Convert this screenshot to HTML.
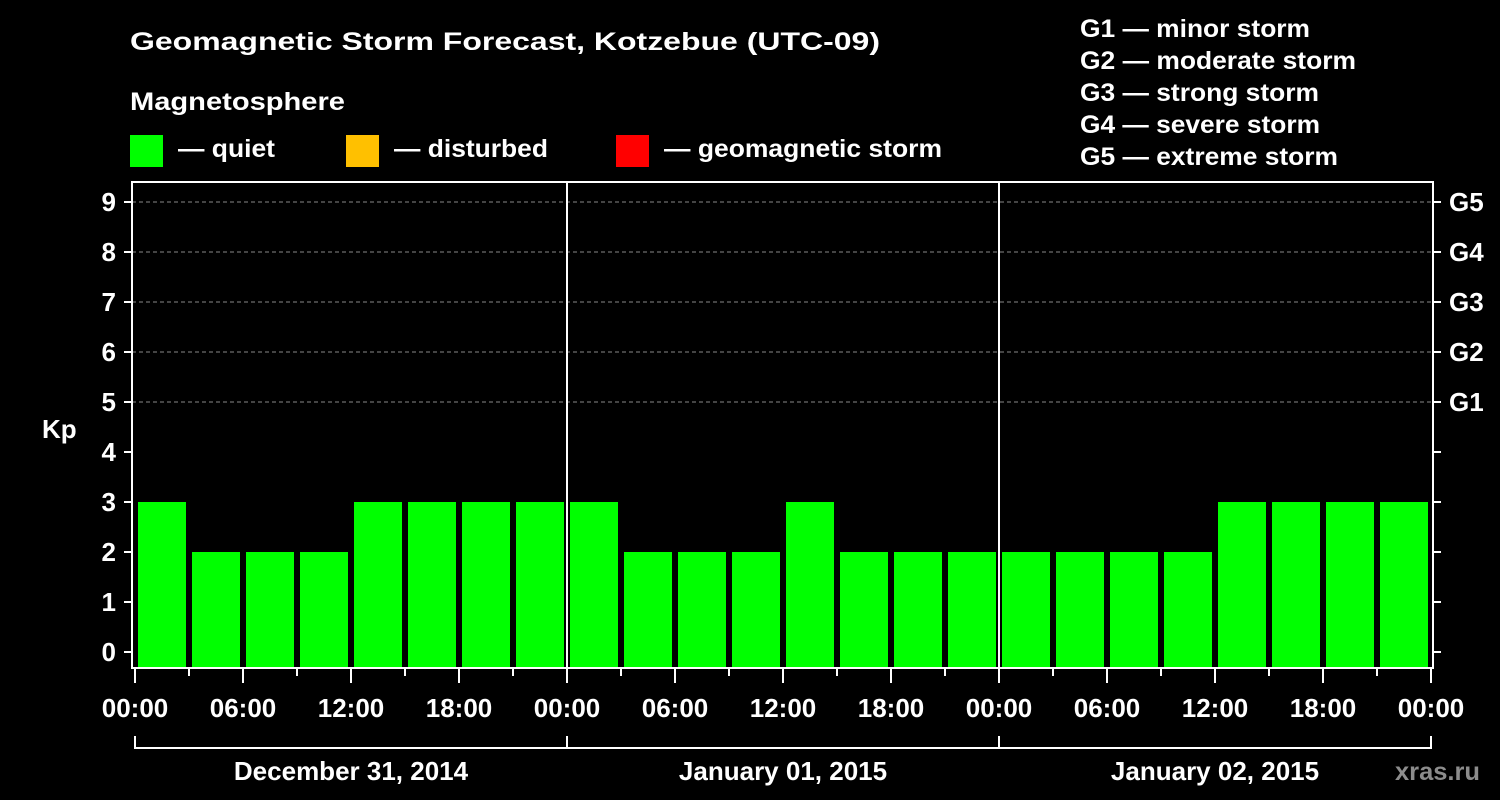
<!DOCTYPE html>
<html><head><meta charset="utf-8"><style>
html,body{margin:0;padding:0;background:#000;}
svg{display:block;}
text{font-family:"Liberation Sans",Arial,sans-serif;font-weight:bold;fill:#fff;}
</style></head><body>
<svg id="chart" width="1500" height="800" viewBox="0 0 1500 800" xmlns="http://www.w3.org/2000/svg">
<rect width="1500" height="800" fill="#000"/>
<text x="130" y="50" font-size="25" textLength="750" lengthAdjust="spacingAndGlyphs">Geomagnetic Storm Forecast, Kotzebue (UTC-09)</text>
<text x="130" y="110" font-size="25" textLength="215" lengthAdjust="spacingAndGlyphs">Magnetosphere</text>
<rect x="130" y="135" width="33" height="32" fill="#00ff00"/>
<text x="178" y="157" font-size="25" textLength="97" lengthAdjust="spacingAndGlyphs">— quiet</text>
<rect x="346" y="135" width="33" height="32" fill="#ffc000"/>
<text x="394" y="157" font-size="25" textLength="154" lengthAdjust="spacingAndGlyphs">— disturbed</text>
<rect x="616" y="135" width="33" height="32" fill="#ff0000"/>
<text x="664" y="157" font-size="25" textLength="278" lengthAdjust="spacingAndGlyphs">— geomagnetic storm</text>
<text x="1080" y="37" font-size="25" textLength="230" lengthAdjust="spacingAndGlyphs">G1 — minor storm</text>
<text x="1080" y="69" font-size="25" textLength="276" lengthAdjust="spacingAndGlyphs">G2 — moderate storm</text>
<text x="1080" y="101" font-size="25" textLength="239" lengthAdjust="spacingAndGlyphs">G3 — strong storm</text>
<text x="1080" y="133" font-size="25" textLength="240" lengthAdjust="spacingAndGlyphs">G4 — severe storm</text>
<text x="1080" y="165" font-size="25" textLength="258" lengthAdjust="spacingAndGlyphs">G5 — extreme storm</text>
<text x="42" y="438" font-size="26">Kp</text>
<text x="1395" y="780" font-size="25" style="fill:#8c8c8c" textLength="85" lengthAdjust="spacingAndGlyphs">xras.ru</text>
<g id="plot"></g>
</svg>
<script>
const kpValues = [3,2,2,2,3,3,3,3, 3,2,2,2,3,2,2,2, 2,2,2,2,3,3,3,3];
const yTicks = [0,1,2,3,4,5,6,7,8,9];
const gLabels = ["G1","G2","G3","G4","G5"];
const gLevels = [5,6,7,8,9];
const timeLabels = ["00:00","06:00","12:00","18:00"];
const dayLabels = ["December 31, 2014","January 01, 2015","January 02, 2015"];

const NS = "http://www.w3.org/2000/svg";
const plot = document.getElementById('plot');
const X0 = 135, DAYW = 432, LEFT = 132, RIGHT = 1433, TOP = 182, BOTTOM = 668;
const nBars = kpValues.length;
const slot = (DAYW * dayLabels.length) / nBars;
function y(v){ return 652 - 50 * v; }
function x(i){ return X0 + i * slot; }
function mk(tag, attrs){ const e = document.createElementNS(NS, tag); for (const k in attrs) e.setAttribute(k, attrs[k]); plot.appendChild(e); return e; }

// gridlines
gLevels.forEach(v => {
  const l = mk('line', {x1: LEFT, x2: RIGHT, y1: y(v), y2: y(v), stroke: '#888', 'stroke-width': 1, 'stroke-dasharray': '4,3'});
  
  
});
// bars
kpValues.forEach((v, i) => {
  const c = v >= 5 ? '#ff0000' : (v >= 4 ? '#ffc000' : '#00ff00');
  const r = mk('rect', {x: x(i) + 3, y: y(v), width: slot - 6, height: BOTTOM - y(v), fill: c});
  
  
});
// frame
const fr = mk('rect', {x: LEFT, y: TOP, width: RIGHT - LEFT, height: BOTTOM - TOP, fill: 'none', stroke: '#fff', 'stroke-width': 2});


// day separators
for (let d = 1; d < dayLabels.length; d++) {
  const l = mk('line', {x1: X0 + d * DAYW, x2: X0 + d * DAYW, y1: TOP, y2: BOTTOM, stroke: '#fff', 'stroke-width': 2});
  
  
}
// y ticks
yTicks.forEach(v => {
  const t = mk('line', {x1: 124, x2: LEFT, y1: y(v), y2: y(v), stroke: '#fff', 'stroke-width': 2});
  
  
  const t2 = mk('line', {x1: RIGHT, x2: 1441, y1: y(v), y2: y(v), stroke: '#fff', 'stroke-width': 2});
  
  
  const tx = mk('text', {x: 116, y: y(v) + 9, 'font-size': 26, 'text-anchor': 'end'});
  tx.textContent = v;
  
  
});
gLabels.forEach((g, i) => {
  const tx = mk('text', {x: 1449, y: y(gLevels[i]) + 9, 'font-size': 26});
  tx.textContent = g;
  
  
});
// x ticks
for (let i = 0; i <= nBars; i++) {
  const major = i % 2 === 0;
  const t = mk('line', {x1: x(i), x2: x(i), y1: BOTTOM, y2: major ? 683 : 676, stroke: '#fff', 'stroke-width': 2});
  
  
  if (major) {
    const tx = mk('text', {x: x(i), y: 717, 'font-size': 26, 'text-anchor': 'middle'});
    tx.textContent = timeLabels[(i / 2) % timeLabels.length];
    
    
  }
}
// day bracket
const br = mk('path', {d: `M${X0},736 V748 H${X0 + DAYW * dayLabels.length} V736`, fill: 'none', stroke: '#fff', 'stroke-width': 2});


dayLabels.forEach((d, i) => {
  if (i > 0) {
    const t = mk('line', {x1: X0 + i * DAYW, x2: X0 + i * DAYW, y1: 736, y2: 748, stroke: '#fff', 'stroke-width': 2});
    
    
  }
  const tx = mk('text', {x: X0 + (i + 0.5) * DAYW, y: 780, 'font-size': 26, 'text-anchor': 'middle'});
  tx.textContent = d;
  
  
});
</script>
</body></html>
